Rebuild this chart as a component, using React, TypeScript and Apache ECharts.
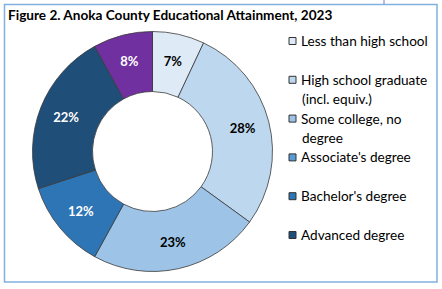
import React, { useEffect, useRef } from "react";
import * as echarts from "echarts";

const title = "Figure 2. Anoka County Educational Attainment, 2023";
const categories = [
  "Less than high school",
  "High school graduate (incl. equiv.)",
  "Some college, no degree",
  "Associate's degree",
  "Bachelor's degree",
  "Advanced degree",
];
const values = [7, 28, 23, 12, 22, 8];
const sliceColors = ["#deebf7", "#bdd7ee", "#9dc3e6", "#2e75b6", "#1f4e79", "#7030a0"];
const labelColors = ["#000000", "#000000", "#000000", "#ffffff", "#ffffff", "#ffffff"];
const legendColors = ["#deebf7", "#bdd7ee", "#9dc3e6", "#5b9bd5", "#2e75b6", "#1f4e79"];
const legendLines = [
  ["Less than high school"],
  ["High school graduate", "(incl. equiv.)"],
  ["Some college, no", "degree"],
  ["Associate's degree"],
  ["Bachelor's degree"],
  ["Advanced degree"],
];

const FONT = "Lato";

export default function App() {
  const ref = useRef<HTMLDivElement>(null);
  useEffect(() => {
    if (!ref.current) return;
    const chart = echarts.init(ref.current, null, { renderer: "svg" });
    const legendTop = 34;
    const legendItemH = 14;
    const legendGap = 24.8;
    const legendTextX = 302;
    const contTexts: any[] = [];
    legendLines.forEach((lines, i) => {
      const cy = legendTop + i * (legendItemH + legendGap) + legendItemH / 2;
      lines.slice(1).forEach((ln, j) => {
        contTexts.push({
          type: "text",
          x: legendTextX,
          y: cy + 19 * (j + 1),
          style: {
            text: ln,
            fill: "#000",
            font: `13.6px ${FONT}`,
            textVerticalAlign: "middle",
            textAlign: "left",
          },
        });
      });
    });
    chart.setOption({
      animation: false,
      title: {
        text: title,
        left: 8,
        top: 8,
        padding: 0,
        textStyle: { fontFamily: FONT, fontSize: 13.6, fontWeight: "bold", color: "#000" },
      },
      legend: {
        orient: "vertical",
        left: 288.5,
        top: legendTop,
        padding: 0,
        itemWidth: 7,
        itemHeight: 7,
        itemGap: legendGap,
        textGap: 6.5,
        icon: "rect",
        selectedMode: false,
        formatter: (name: string) => legendLines[categories.indexOf(name)][0],
        textStyle: { fontFamily: FONT, fontSize: 13.6, color: "#000", lineHeight: legendItemH, padding: [0, 0, 0, 0] },
        itemStyle: { borderColor: "#333", borderWidth: 1 },
        data: categories.map((c, i) => ({
          name: c,
          itemStyle: { color: legendColors[i], borderColor: "#333", borderWidth: 1 },
        })),
      },
      graphic: [
        {
          type: "rect",
          shape: { x: 4.5, y: 4.5, width: 432.5, height: 277.5 },
          style: { fill: "none", stroke: "#80b1de", lineWidth: 1.5 },
          silent: true,
        },
        {
          type: "line",
          shape: { x1: 384, y1: 0, x2: 384, y2: 4 },
          style: { stroke: "#6d7fd8", lineWidth: 1 },
          silent: true,
        },
        ...contTexts,
      ],
      series: [
        {
          type: "pie",
          center: [152.5, 151.5],
          radius: [60, 120],
          startAngle: 90,
          clockwise: true,
          silent: true,
          avoidLabelOverlap: false,
          itemStyle: { borderColor: "#3a3a3a", borderWidth: 0.8 },
          label: {
            show: true,
            position: "inside",
            fontFamily: FONT,
            fontSize: 13,
            fontWeight: "bold",
            formatter: (p: any) => `${Math.round(p.percent)}%`,
          },
          labelLine: { show: false },
          emphasis: { disabled: true },
          data: categories.map((c, i) => ({
            name: c,
            value: values[i],
            itemStyle: { color: sliceColors[i] },
            label: { color: labelColors[i] },
          })),
        },
      ],
    });
    return () => chart.dispose();
  }, []);
  return (
    <div
      ref={ref}
      style={{ position: "fixed", left: 0, top: 0, width: 442, height: 289, background: "#fff" }}
    />
  );
}
